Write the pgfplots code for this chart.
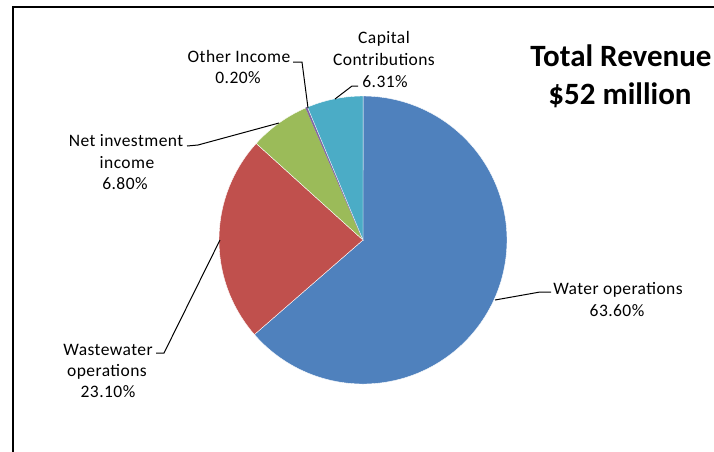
\documentclass[border=0pt]{standalone}
\usepackage{pgfplots}
\pgfplotsset{compat=1.18}
\usepackage{fontspec}
\setmainfont{Carlito}
\newfontfamily\labelfont[LetterSpace=2.5]{Carlito}
\definecolor{cwater}{HTML}{4F81BD}
\definecolor{cwaste}{HTML}{C0504D}
\definecolor{cnet}{HTML}{9BBB59}
\definecolor{cother}{HTML}{8064A2}
\definecolor{ccap}{HTML}{4BACC6}
\begin{document}
\begin{tikzpicture}
% shares in percent, clockwise from 12 o'clock
\pgfmathsetmacro\sA{90}
\pgfmathsetmacro\sB{\sA-3.6*63.60}
\pgfmathsetmacro\sC{\sB-3.6*23.10}
\pgfmathsetmacro\sD{\sC-3.6*6.80}
\pgfmathsetmacro\sE{\sD-3.6*0.20}
\pgfmathsetmacro\sF{\sE-3.6*6.31}
\begin{axis}[name=ax, width=714pt, height=451pt, scale only axis, hide axis,
  xmin=0, xmax=714, ymin=0, ymax=451, y dir=reverse, clip=false]
\addplot[fill=cwater, draw=white, line width=0.4pt, domain=\sB:\sA, samples=160] ({363+144*cos(x)},{240-144*sin(x)}) -- (363,240) -- cycle;
\addplot[fill=cwaste, draw=white, line width=0.4pt, domain=\sC:\sB, samples=80] ({363+144*cos(x)},{240-144*sin(x)}) -- (363,240) -- cycle;
\addplot[fill=cnet, draw=white, line width=0.4pt, domain=\sD:\sC, samples=30] ({363+144*cos(x)},{240-144*sin(x)}) -- (363,240) -- cycle;
\addplot[fill=cother, draw=cother, line width=0.6pt, domain=\sE:\sD, samples=4] ({363+144*cos(x)},{240-144*sin(x)}) -- (363,240) -- cycle;
\addplot[fill=ccap, draw=white, line width=0.4pt, domain=\sF:\sE, samples=30] ({363+144*cos(x)},{240-144*sin(x)}) -- (363,240) -- cycle;
% leader lines
\draw[black, line width=1pt] (293,62) -- (302,62) -- (308,108);
\draw[black, line width=1pt] (358,86) -- (352,86) -- (335,99);
\draw[black, line width=1pt] (187,146) -- (198,145) -- (279,123);
\draw[black, line width=1pt] (156,353) -- (164,353) -- (220,240);
\draw[black, line width=1pt] (551,292) -- (540,292) -- (495,300);
% labels
\begin{scope}[every node/.style={anchor=base, inner sep=0pt, font=\labelfont\fontsize{17.5}{21}\selectfont}]
\node at (239,62) {Other Income};
\node at (238,83) {0.20\%};
\node at (384,43) {Capital};
\node at (384,65) {Contributions};
\node at (385,87) {6.31\%};
\node at (126,146) {Net investment};
\node at (127,168) {income};
\node at (125,189) {6.80\%};
\node at (108,355) {Wastewater};
\node at (107,376) {operations};
\node at (108,397) {23.10\%};
\node at (618,294) {Water operations};
\node at (617,316) {63.60\%};
\end{scope}
\node[anchor=base, inner sep=0pt, font=\fontsize{31}{36}\selectfont\bfseries] at (621,66) {Total Revenue};
\node[anchor=base, inner sep=0pt, font=\fontsize{31}{36}\selectfont\bfseries] at (620,104) {\$52 million};
% frame
\draw[black, line width=2.5pt] (13,470) -- (13,7) -- (740,7);
\end{axis}
\pgfresetboundingbox
\path[use as bounding box] (ax.south west) rectangle (ax.north east);
\end{tikzpicture}
\end{document}
